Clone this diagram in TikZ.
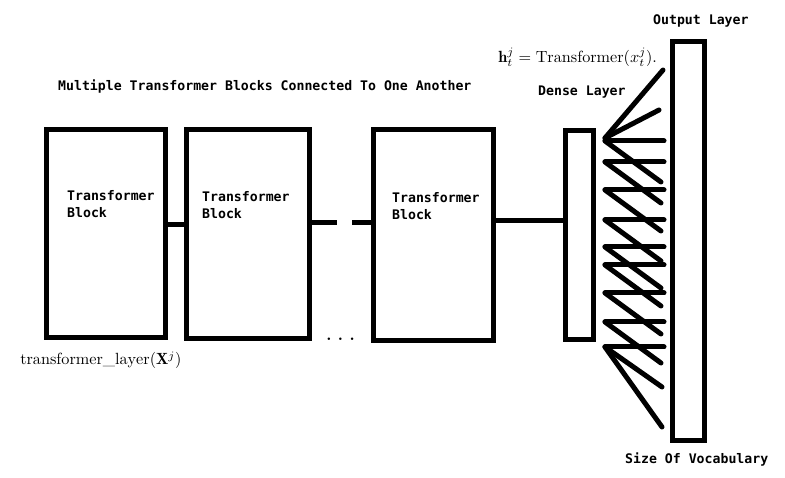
\documentclass[tikz,border=0pt]{standalone}
\usepackage{fontspec}
\newfontfamily\labfont{DejaVu Sans Mono}
\begin{document}
\begin{tikzpicture}[x=1pt,y=-1pt,
  lab/.style={font=\labfont\bfseries\fontsize{13.2}{17}\selectfont, inner sep=0pt, anchor=base west, align=left},
  mth/.style={inner sep=0pt, anchor=base west, scale=1.62},
  blk/.style={draw, line width=5pt, inner sep=0pt, outer sep=0pt},
  wire/.style={line width=5pt},
  fan/.style={line width=5pt, line cap=round}]
\useasboundingbox (0,0) rectangle (785,478);
% blocks
\node[blk, minimum width=119pt, minimum height=208pt] (b1) at (105.5,234) {};
\node[blk, minimum width=123pt, minimum height=209pt] (b2) at (247.5,234.5) {};
\node[blk, minimum width=120pt, minimum height=211pt] (b3) at (433,235.5) {};
\node[blk, minimum width=28pt, minimum height=209pt] (dense) at (579,235.5) {};
\node[blk, minimum width=32pt, minimum height=398pt] (out) at (688,241) {};
% connector levels
\coordinate (l1) at (0,225);
\coordinate (l2) at (0,223);
\coordinate (l3) at (0,221);
\draw[wire] (b1.east |- l1) -- (b2.west |- l1);
\draw[wire, dash pattern=on 28pt off 15pt on 40pt] (b2.east |- l2) -- (b3.west |- l2);
\draw[wire] (b3.east |- l3) -- (dense.west |- l3);
% labels
\node[lab] (title) at (58,91) {Multiple Transformer Blocks Connected To One Another};
\node[lab] (t1) at (67,218) {Transformer\\Block};
\node[lab] (t2) at (202,219) {Transformer\\Block};
\node[lab] (t3) at (392,220) {Transformer\\Block};
\node[lab] (dl) at (538,96) {Dense Layer};
\node[lab] (ol) at (653,25) {Output Layer};
\node[lab] (sv) at (625,464) {Size Of Vocabulary};
\node[mth] (eq) at (498,63) {$\mathbf{h}_t^j = \mathrm{Transformer}(x_t^j).$};
\node[mth] (tl) at (20,365) {$\mathrm{transformer\_layer}(\mathbf{X}^j)$};
\node[mth] (dots) at (326,341) {\textbf{.\hspace{4pt}.\hspace{4pt}.}};
% fan of connections between dense and output layers
\draw[fan] (605,138) -- (663,70);
\draw[fan] (605,138) -- (659,110);
\foreach \yy in {141,162,190,220,247,265,293,322,347}
  \draw[fan] (605,\yy) -- (664,\yy);
\foreach \yy in {141,162,190,220,247,265,293,322}
  \draw[fan] (605,\yy) -- (661,\yy+41);
\draw[fan] (605,347) -- (662,387);
\draw[fan] (605,347) -- (662,427);
\end{tikzpicture}
\end{document}
